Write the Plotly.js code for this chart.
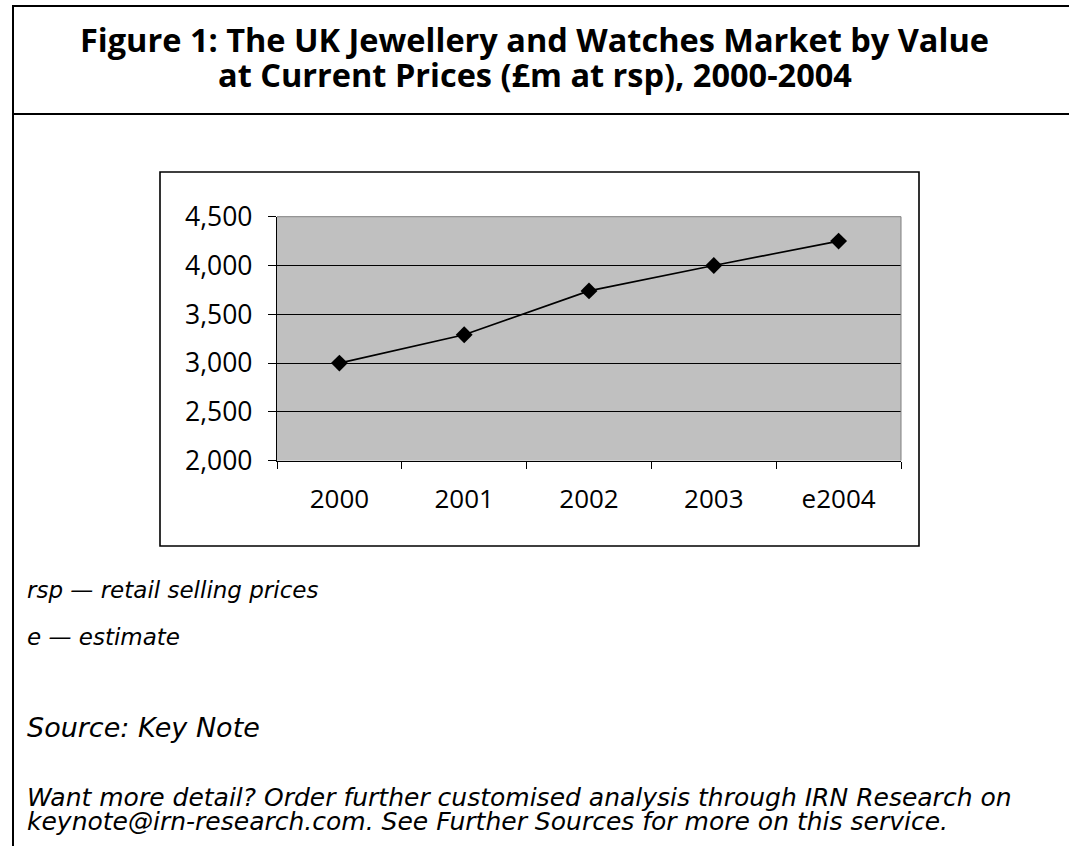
<!DOCTYPE html>
<html>
<head>
<meta charset="utf-8">
<script src="https://cdn.plot.ly/plotly-3.0.1.min.js"></script>
<style>html,body{margin:0;padding:0;background:#fff;}#chart{width:1069px;height:846px;}</style>
</head>
<body>
<div id="chart"></div>
<script>
// Data
const categories = ["2000", "2001", "2002", "2003", "e2004"];
const marketValue = [3000, 3290, 3740, 4000, 4250];
const yTickValues = [2000, 2500, 3000, 3500, 4000, 4500];

const titleLine1 = "Figure 1: The UK Jewellery and Watches Market by Value";
const titleLine2 = "at Current Prices (£m at rsp), 2000-2004";
const noteLines = ["rsp — retail selling prices", "e — estimate"];
const sourceText = "Source: Key Note";
const moreLines = ["Want more detail? Order further customised analysis through IRN Research on",
                   "keynote@irn-research.com. See Further Sources for more on this service."];

const W = 1069, H = 846;
const X = p => p / W;
const Y = p => 1 - p / H;

const plotL = 277, plotR = 901, plotT = 216.7, plotB = 460.7;

const FONT = "Open Sans, Noto Sans, sans-serif";
const NOTEFONT = "DejaVu Sans, Open Sans, sans-serif";

const trace = {
  type: "scatter",
  mode: "lines+markers",
  x: categories,
  y: marketValue,
  line: {color: "#000", width: 1.6},
  marker: {symbol: "diamond", size: 13, color: "#000"},
  hoverinfo: "x+y",
  showlegend: false
};

const ann = (text, x, y, size, opts = {}) => Object.assign({
  text, x: X(x), y: Y(y), xref: "paper", yref: "paper",
  showarrow: false, xanchor: "left", yanchor: "middle",
  font: {family: NOTEFONT, size, color: "#000", style: "italic"}
}, opts);

const titleFont = {family: FONT, size: 32.5, color: "#000", weight: 700};

const annotations = [
  ann(titleLine1, 534.5, 40, 32.5, {xanchor: "center", font: titleFont}),
  ann(titleLine2, 534.5, 74, 32.5, {xanchor: "center", font: titleFont}),
  ann(noteLines[0], 25, 590, 23),
  ann(noteLines[1], 25, 637, 23),
  ann(sourceText, 25, 727, 27),
  ann(moreLines[0], 25, 797, 25),
  ann(moreLines[1], 25, 821, 25)
];

const line = (x0, y0, x1, y1, color, width) => ({
  type: "line", xref: "paper", yref: "paper",
  x0: X(x0), y0: Y(y0), x1: X(x1), y1: Y(y1),
  line: {color, width}, layer: "above"
});

const shapes = [
  line(13, 6, 1069, 6, "#000", 2),
  line(13, 114, 1069, 114, "#000", 2),
  line(13, 5, 13, 846, "#000", 2),
  {type: "rect", xref: "paper", yref: "paper",
   x0: X(160), y0: Y(546), x1: X(919), y1: Y(172),
   line: {color: "#000", width: 1.6}, layer: "above"},
  line(plotL, plotT, plotR, plotT, "#808080", 1),
  line(plotR, plotT, plotR, plotB, "#808080", 1)
];

const layout = {
  width: W, height: H,
  margin: {l: 0, r: 0, t: 0, b: 0},
  paper_bgcolor: "#fff",
  plot_bgcolor: "#c0c0c0",
  showlegend: false,
  xaxis: {
    domain: [X(plotL), X(plotR)],
    type: "category",
    range: [-0.5, 4.5],
    tickson: "boundaries",
    ticks: "outside", ticklen: 7, tickwidth: 1, tickcolor: "#000",
    showline: true, linecolor: "#000", linewidth: 1.2,
    showgrid: false, zeroline: false,
    ticklabelstandoff: 15,
    tickfont: {family: FONT, size: 26, color: "#000"},
    fixedrange: true
  },
  yaxis: {
    domain: [Y(plotB), Y(plotT)],
    range: [2000, 4500],
    tickvals: yTickValues,
    tickformat: ",d",
    ticks: "outside", ticklen: 8, tickwidth: 1, tickcolor: "#000",
    showline: true, linecolor: "#000", linewidth: 1.2,
    showgrid: true, gridcolor: "#000", gridwidth: 1,
    zeroline: false,
    ticklabelstandoff: 10,
    tickfont: {family: FONT, size: 26.5, color: "#000"},
    fixedrange: true
  },
  annotations, shapes
};

Plotly.newPlot("chart", [trace], layout, {displayModeBar: false, staticPlot: true});
</script>
</body>
</html>
